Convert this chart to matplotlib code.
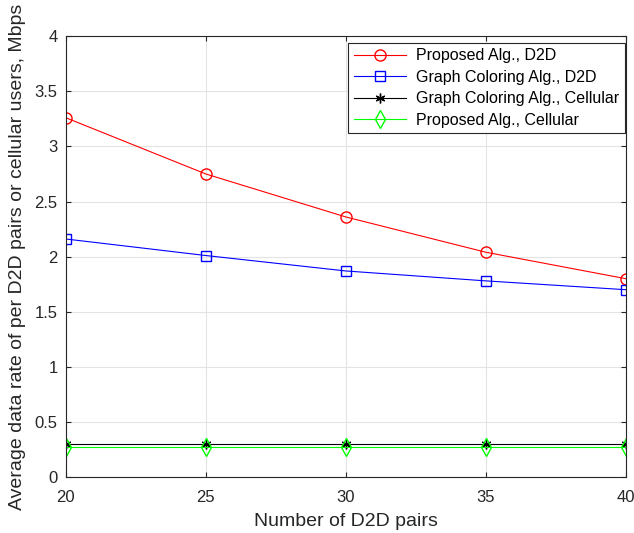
import matplotlib
matplotlib.use('Agg')
import matplotlib.pyplot as plt

plt.rcParams['font.family'] = ['Liberation Sans', 'DejaVu Sans']

pairs = [20, 25, 30, 35, 40]
proposed_d2d = [3.26, 2.75, 2.36, 2.04, 1.80]
coloring_d2d = [2.16, 2.01, 1.87, 1.78, 1.70]
coloring_cell = [0.30, 0.30, 0.30, 0.30, 0.30]
proposed_cell = [0.27, 0.27, 0.27, 0.27, 0.27]

fig = plt.figure(figsize=(6.34, 5.33), dpi=100)
ax = fig.add_axes([0.104, 0.105, 0.883, 0.827])

ax.plot(pairs, proposed_d2d, color='red', marker='o', markersize=8,
        markerfacecolor='none', linewidth=0.8, label='Proposed Alg., D2D')
ax.plot(pairs, coloring_d2d, color='blue', marker='s', markersize=7,
        markerfacecolor='none', linewidth=0.8, label='Graph Coloring Alg., D2D')
ax.plot(pairs, coloring_cell, color='black', marker=(6, 2, 0), markersize=7,
        linewidth=0.8, label='Graph Coloring Alg., Cellular')
ax.plot(pairs, proposed_cell, color='#00ff00', marker='d', markersize=9,
        markerfacecolor='none', linewidth=0.8, label='Proposed Alg., Cellular')

ax.set_xlim(20, 40)
ax.set_ylim(0, 4)
ax.set_xticks([20, 25, 30, 35, 40])
ax.set_yticks([0, 0.5, 1, 1.5, 2, 2.5, 3, 3.5, 4])
ax.set_yticklabels(['0', '0.5', '1', '1.5', '2', '2.5', '3', '3.5', '4'])
ax.grid(True, color='#e3e3e3', linewidth=0.8)
ax.set_axisbelow(True)
ax.tick_params(direction='in', top=True, right=True, labelsize=12, colors='#262626')
ax.tick_params(axis='x', pad=9)
ax.tick_params(axis='y', pad=6)
for s in ax.spines.values():
    s.set_color('#262626')
    s.set_linewidth(0.8)

ax.set_xlabel('Number of D2D pairs', fontsize=14, color='#262626', labelpad=6)
ax.set_ylabel('Average data rate of per D2D pairs or cellular users, Mbps',
              fontsize=14, color='#262626', labelpad=6)

leg = ax.legend(loc='upper right', bbox_to_anchor=(0.998, 0.985), fontsize=11.5,
                fancybox=False, framealpha=1, edgecolor='#262626', handlelength=3.3,
                borderaxespad=0, labelspacing=0.4, borderpad=0.35, handletextpad=0.6)
leg.get_frame().set_linewidth(0.8)

fig.savefig('out.png', dpi=100)
